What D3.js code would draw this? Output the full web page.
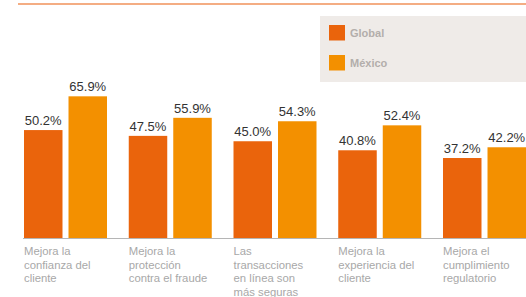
<!DOCTYPE html>
<html>
<head>
<meta charset="utf-8">
<script src="https://cdn.jsdelivr.net/npm/d3@7"></script>
<style>
  body { margin: 0; background: #fff; }
  svg { display: block; font-family: "Liberation Sans", Arial, sans-serif; }
</style>
</head>
<body>
<div id="chart"></div>
<script>
const categories = [
  ["Mejora la", "confianza del", "cliente"],
  ["Mejora la", "protección", "contra el fraude"],
  ["Las", "transacciones", "en línea son", "más seguras"],
  ["Mejora la", "experiencia del", "cliente"],
  ["Mejora el", "cumplimiento", "regulatorio"]
];
const seriesNames = ["Global", "México"];
const globalValues = [50.2, 47.5, 45.0, 40.8, 37.2];
const mexicoValues = [65.9, 55.9, 54.3, 52.4, 42.2];

const colors = { "Global": "#ea640c", "México": "#f39000" };

let width = 526, height = 297;
let baseY = 238;

let svg = d3.select("#chart").append("svg")
  .attr("width", width)
  .attr("height", height);

let data = categories.map((c, i) => ({
  key: i,
  lines: c,
  values: [
    { name: "Global", value: globalValues[i] },
    { name: "México", value: mexicoValues[i] }
  ]
}));

let x0 = d3.scaleBand()
  .domain(data.map(d => d.key))
  .range([24, 526])
  .paddingInner(0.2076)
  .paddingOuter(0);

let x1 = d3.scaleBand()
  .domain(seriesNames)
  .range([0, x0.bandwidth()])
  .paddingInner(0.135);

let y = d3.scaleLinear()
  .domain([0, 100])
  .range([baseY, baseY - 215]);

// top rule
svg.append("line")
  .attr("x1", 18).attr("x2", width)
  .attr("y1", 4).attr("y2", 4)
  .attr("stroke", "#f0925a")
  .attr("stroke-width", 1.6);

// legend
let legend = svg.append("g");
legend.append("rect")
  .attr("x", 320).attr("y", 16)
  .attr("width", 206).attr("height", 66)
  .attr("fill", "#efebe8");
seriesNames.forEach((s, i) => {
  legend.append("rect")
    .attr("x", 329).attr("y", 25 + i * 30)
    .attr("width", 16).attr("height", 15.5)
    .attr("fill", colors[s]);
  legend.append("text")
    .attr("x", 350).attr("y", 37 + i * 30)
    .attr("font-size", 11)
    .attr("font-weight", "bold")
    .attr("fill", "#b3aeab")
    .text(s);
});

let groups = svg.selectAll(".group")
  .data(data)
  .enter()
  .append("g")
  .attr("class", "group")
  .attr("transform", d => "translate(" + x0(d.key) + ",0)");

groups.selectAll("rect")
  .data(d => d.values)
  .enter()
  .append("rect")
  .attr("x", d => x1(d.name))
  .attr("y", d => y(d.value))
  .attr("width", x1.bandwidth())
  .attr("height", d => baseY - y(d.value))
  .attr("fill", d => colors[d.name]);

groups.selectAll(".val")
  .data(d => d.values)
  .enter()
  .append("text")
  .attr("class", "val")
  .attr("x", d => x1(d.name) + x1.bandwidth() / 2)
  .attr("y", d => y(d.value) - 5)
  .attr("text-anchor", "middle")
  .attr("font-size", 13)
  .attr("fill", "#333")
  .text(d => d.value.toFixed(1) + "%");

// baseline
svg.append("line")
  .attr("x1", 23).attr("x2", width)
  .attr("y1", baseY + 0.5).attr("y2", baseY + 0.5)
  .attr("stroke", "#b5b5b5")
  .attr("stroke-width", 1);

// category labels
groups.append("text")
  .attr("x", 0)
  .attr("y", 255)
  .attr("font-size", 11.3)
  .attr("fill", "#a8a8a8")
  .selectAll("tspan")
  .data(d => d.lines)
  .enter()
  .append("tspan")
  .attr("x", 0)
  .attr("dy", (d, i) => i === 0 ? 0 : 13.5)
  .text(d => d);
</script>
</body>
</html>
